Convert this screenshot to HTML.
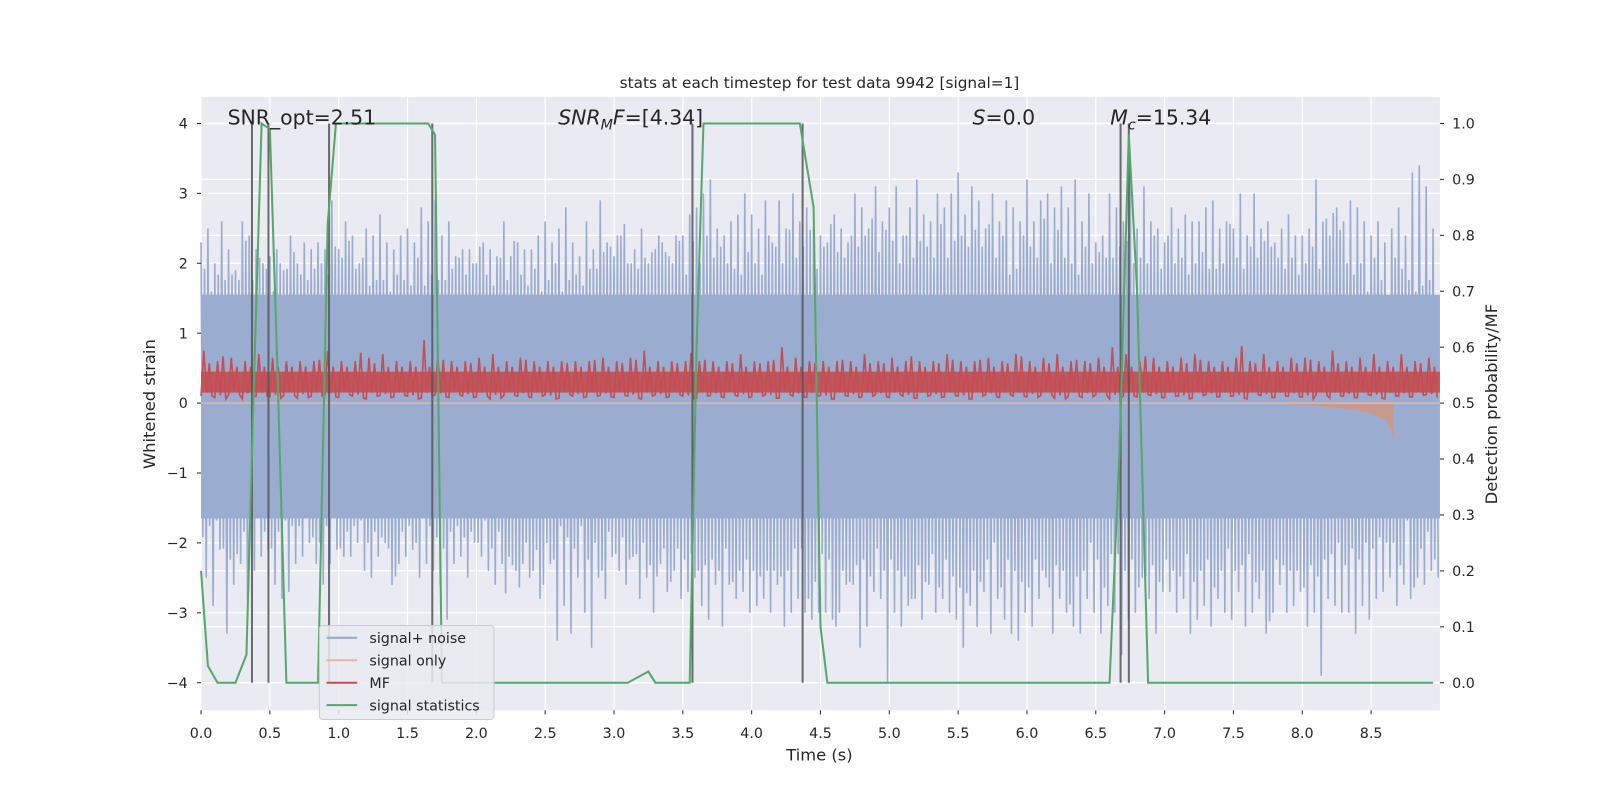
<!DOCTYPE html>
<html><head><meta charset="utf-8">
<style>
html,body{margin:0;padding:0;background:#fff;width:1600px;height:800px;overflow:hidden;}
svg{display:block;font-family:"DejaVu Sans","Liberation Sans",sans-serif;}
</style></head>
<body>
<svg id="chart" width="1600" height="800" viewBox="0 0 1600 800" xmlns="http://www.w3.org/2000/svg">
<g transform="scale(1.0205)">
<rect x="197" y="95" width="1214" height="601" fill="#eaeaf2"/>
<g id="grid"></g>
<g id="noise"></g>
<g id="sig"></g>
<g id="mf"></g>
<g id="vlines"></g>
<g id="stat"></g>
<g id="axes"></g>
<text x="803" y="86" font-size="15" text-anchor="middle" fill="#262626">stats at each timestep for test data 9942 [signal=1]</text>
<text x="223" y="122" font-size="20" fill="#262626">SNR_opt=2.51</text>
<text x="547" y="122" font-size="20" fill="#262626"><tspan font-style="italic">SNR</tspan><tspan font-style="italic" font-size="14" dy="5">M</tspan><tspan font-style="italic" dy="-5">F</tspan>=[4.34]</text>
<text x="953" y="122" font-size="20" fill="#262626"><tspan font-style="italic">S</tspan>=0.0</text>
<text x="1088" y="122" font-size="20" fill="#262626"><tspan font-style="italic">M</tspan><tspan font-style="italic" font-size="14" dy="5">c</tspan><tspan dy="-5">=15.34</tspan></text>
<text transform="translate(152,396) rotate(-90)" font-size="16" text-anchor="middle" fill="#262626">Whitened strain</text>
<text transform="translate(1467,396) rotate(-90)" font-size="16" text-anchor="middle" fill="#262626">Detection probability/MF</text>
<text x="803" y="745" font-size="16" text-anchor="middle" fill="#262626">Time (s)</text>
<g>
<rect x="313" y="613" width="171" height="92" rx="3" fill="#eaeaf2" fill-opacity="0.85" stroke="#cccccc"/>
<line x1="320" y1="625" x2="350" y2="625" stroke="#9aadd0" stroke-width="2"/>
<text x="362" y="630" font-size="14" fill="#262626">signal+ noise</text>
<line x1="320" y1="647" x2="350" y2="647" stroke="#e9b49c" stroke-width="2"/>
<text x="362" y="652" font-size="14" fill="#262626">signal only</text>
<line x1="320" y1="669" x2="350" y2="669" stroke="#c44e52" stroke-width="2"/>
<text x="362" y="674" font-size="14" fill="#262626">MF</text>
<line x1="320" y1="691" x2="350" y2="691" stroke="#55a868" stroke-width="2"/>
<text x="362" y="696" font-size="14" fill="#262626">signal statistics</text>
</g>
</g>
</svg>
<script>
const xTicks=[0,0.5,1,1.5,2,2.5,3,3.5,4,4.5,5,5.5,6,6.5,7,7.5,8,8.5];
const xTickLabels=["0.0","0.5","1.0","1.5","2.0","2.5","3.0","3.5","4.0","4.5","5.0","5.5","6.0","6.5","7.0","7.5","8.0","8.5"];
const yTicks=[-4,-3,-2,-1,0,1,2,3,4];
const yTickLabels=["\u22124","\u22123","\u22122","\u22121","0","1","2","3","4"];
const y2Ticks=[0,0.1,0.2,0.3,0.4,0.5,0.6,0.7,0.8,0.9,1.0];
const y2TickLabels=["0.0","0.1","0.2","0.3","0.4","0.5","0.6","0.7","0.8","0.9","1.0"];
const noiseStep=0.05;
const noiseUpper=[2.3,2.5,2.0,2.6,2.2,1.9,2.6,2.4,2.2,2.0,2.1,2.2,1.9,2.4,2.0,2.3,2.2,2.3,2.2,2.9,2.2,2.6,2.4,2.0,2.5,2.4,2.7,2.3,2.2,2.4,2.5,2.3,2.8,2.6,2.9,2.4,2.6,2.1,2.2,2.2,2.0,2.3,2.2,2.1,2.6,2.1,2.3,2.2,2.2,2.4,2.6,2.3,2.5,2.8,2.3,2.1,2.6,2.2,2.9,2.3,2.1,2.4,2.0,2.2,2.5,2.0,2.2,2.3,2.1,2.4,2.4,2.7,2.8,3.0,3.2,2.5,2.4,2.6,2.7,3.0,2.7,2.5,2.9,2.3,2.9,2.5,3.0,2.6,2.8,2.5,2.4,2.3,2.7,2.5,2.3,3.0,2.8,2.5,3.1,2.6,2.8,3.1,2.4,2.8,3.2,2.7,2.6,3.0,2.8,3.0,3.3,2.7,3.1,2.9,2.5,3.0,2.6,2.9,2.8,2.6,3.2,2.6,2.9,3.0,2.8,3.1,2.8,3.2,2.6,3.0,2.3,2.4,3.0,2.8,2.6,3.3,2.5,3.1,2.6,2.5,2.3,2.8,2.5,2.7,2.6,2.6,2.8,2.9,2.5,2.6,2.5,3.0,2.4,3.0,2.5,2.6,2.3,2.5,2.7,2.4,2.4,2.5,3.2,2.6,2.4,2.8,2.6,2.9,2.8,2.6,2.4,2.6,2.3,2.5,2.8,2.4,3.3,3.4,3.1,2.5];
const noiseLower=[-2.5,-2.9,-2.1,-3.3,-2.6,-2.3,-2.8,-2.4,-2.2,-2.1,-2.6,-2.8,-2.7,-2.3,-2.2,-2.0,-2.3,-2.6,-2.3,-2.1,-2.2,-2.2,-2.0,-2.4,-2.5,-2.2,-2.0,-2.6,-2.3,-2.2,-2.1,-2.5,-2.3,-2.4,-2.6,-3.1,-2.3,-2.2,-2.5,-2.0,-2.2,-2.4,-2.6,-2.3,-2.2,-2.4,-2.3,-2.5,-2.1,-2.6,-2.3,-3.4,-2.9,-3.3,-2.5,-3.0,-3.5,-2.5,-2.8,-2.2,-2.4,-2.6,-2.2,-2.8,-2.5,-3.0,-2.3,-2.7,-2.4,-2.8,-2.7,-2.5,-2.9,-3.1,-2.6,-3.2,-2.6,-2.8,-2.7,-3.0,-2.9,-2.8,-3.0,-2.6,-3.2,-3.0,-2.8,-3.0,-3.1,-3.0,-3.0,-3.1,-3.0,-2.6,-2.6,-3.5,-3.2,-2.7,-2.8,-4.0,-3.0,-3.2,-2.9,-2.8,-3.1,-2.6,-3.0,-2.8,-3.0,-3.1,-3.5,-2.9,-3.2,-2.7,-3.3,-2.8,-3.1,-3.3,-3.4,-3.0,-3.2,-2.8,-2.5,-3.3,-2.8,-3.0,-3.2,-3.3,-2.8,-3.0,-3.3,-2.9,-3.0,-3.6,-3.1,-3.0,-2.5,-2.8,-3.3,-2.7,-2.7,-3.0,-2.8,-3.3,-3.1,-2.9,-3.2,-2.8,-3.0,-3.1,-2.7,-3.2,-3.0,-2.8,-3.3,-3.0,-2.6,-3.0,-2.9,-2.7,-3.2,-3.0,-3.9,-2.8,-2.9,-3.0,-3.0,-3.3,-2.9,-3.1,-2.8,-2.7,-2.5,-2.9,-2.6,-2.8,-2.5,-2.6,-2.4,-2.5];
const noiseBand=[-1.65,1.55];
const mfStep=0.1;
const mfHigh=[0.75,0.6,0.65,0.6,0.7,0.65,0.6,0.6,0.6,0.75,0.6,0.6,0.65,0.7,0.6,0.6,0.9,0.65,0.6,0.6,0.65,0.7,0.6,0.65,0.6,0.6,0.6,0.6,0.6,0.65,0.6,0.65,0.75,0.6,0.6,0.6,0.6,0.6,0.6,0.7,0.6,0.6,0.8,0.65,0.6,0.6,0.6,0.6,0.7,0.6,0.65,0.6,0.6,0.6,0.7,0.6,0.6,0.65,0.6,0.7,0.6,0.65,0.7,0.6,0.6,0.65,0.8,0.7,0.6,0.65,0.6,0.65,0.7,0.6,0.6,0.65,0.6,0.7,0.6,0.65,0.65,0.6,0.75,0.6,0.65,0.7,0.6,0.7,0.6,0.65];
const mfLow=[0.1,0.08,0.12,0.06,0.1,0.09,0.11,0.07,0.1,0.12,0.08,0.1,0.06,0.11,0.09,0.1,0.07,0.12,0.08,0.1,0.09,0.06,0.11,0.1,0.08,0.12,0.07,0.1,0.09,0.11,0.08,0.1,0.06,0.12,0.09,0.1,0.07,0.11,0.08,0.1,0.09,0.12,0.07,0.1,0.08,0.11,0.06,0.1,0.09,0.12,0.08,0.1,0.07,0.11,0.09,0.1,0.06,0.12,0.08,0.1,0.09,0.11,0.07,0.1,0.08,0.12,0.06,0.1,0.09,0.11,0.08,0.1,0.07,0.12,0.09,0.1,0.06,0.11,0.08,0.1,0.09,0.12,0.07,0.1,0.08,0.11,0.06,0.1,0.09,0.12];
const mfBand=[0.15,0.45];
const sigT=[7.9,8.0,8.1,8.2,8.3,8.4,8.5,8.6,8.63,8.66];
const sigAmp=[-0.01,-0.02,-0.03,-0.05,-0.07,-0.1,-0.14,-0.22,-0.3,-0.5];
const statT=[0,0.05,0.12,0.25,0.33,0.38,0.44,0.5,0.55,0.62,0.75,0.85,0.92,0.98,1.65,1.7,1.75,3.1,3.25,3.3,3.55,3.6,3.65,4.35,4.45,4.5,4.55,6.6,6.67,6.74,6.8,6.88,8.95];
const statP=[0.2,0.03,0.0,0.0,0.05,0.5,1.0,0.99,0.6,0.0,0.0,0.0,0.82,1.0,1.0,0.98,0.0,0.0,0.02,0.0,0.0,0.6,1.0,1.0,0.85,0.1,0.0,0.0,0.4,0.98,0.7,0.0,0.0];
const eventTimes=[0.37,0.49,0.93,1.68,3.57,4.37,6.68,6.74];

const NS="http://www.w3.org/2000/svg";
const X0=197,X1=1411,T0=0,T1=9.0;
const xs=t=>X0+(t-T0)/(T1-T0)*(X1-X0);
const ys=v=>395-v*68.5;
const y2s=p=>669-p*548;
function mk(tag,attrs,parent){const e=document.createElementNS(NS,tag);for(const k in attrs)e.setAttribute(k,attrs[k]);parent.appendChild(e);return e;}
const G=id=>document.getElementById(id);

yTicks.forEach(v=>{const l=mk('line',{x1:X0,x2:X1,y1:ys(v),y2:ys(v),stroke:'#fff','stroke-width':1.2},G('grid'));

});
y2Ticks.forEach(v=>{const l=mk('line',{x1:X0,x2:X1,y1:y2s(v),y2:y2s(v),stroke:'#fff','stroke-width':1.2},G('grid'));

});
xTicks.forEach(v=>{const l=mk('line',{x1:xs(v),x2:xs(v),y1:95,y2:696,stroke:'#fff','stroke-width':1.2},G('grid'));

});

const band=mk('rect',{x:X0,width:X1-X0,y:ys(noiseBand[1]),height:ys(noiseBand[0])-ys(noiseBand[1]),fill:'#9aadd0'},G('noise'));


let pts=[];
const n=noiseUpper.length;
noiseUpper.forEach((u,i)=>{const t=i*noiseStep;const j=(i+7)%n,k=(i+13)%n;
pts.push(xs(t)+','+ys(u));
pts.push(xs(t+noiseStep*0.25)+','+ys(noiseLower[j]*0.8));
pts.push(xs(t+noiseStep*0.5)+','+ys(noiseUpper[k]*0.8));
pts.push(xs(t+noiseStep*0.75)+','+ys(noiseLower[i]));});
const np=mk('polyline',{points:pts.join(' '),fill:'none',stroke:'#9aadd0','stroke-width':1.6},G('noise'));



let sp=[xs(sigT[0])+','+ys(0)];
sigT.forEach((t,i)=>sp.push(xs(t)+','+ys(sigAmp[i])));
sp.push(xs(sigT[sigT.length-1])+','+ys(0));
const sg=mk('polygon',{points:sp.join(' '),fill:'#c89a8e',stroke:'#c89a8e','stroke-width':1},G('sig'));


const sz=mk('line',{x1:X0,x2:X1,y1:ys(0),y2:ys(0),stroke:'#e9b49c','stroke-width':1.5},G('sig'));



const mfy=v=>ys(v);
const mfr=mk('rect',{x:X0,width:X1-X0,y:mfy(mfBand[1]),height:mfy(mfBand[0])-mfy(mfBand[1]),fill:'#c44e52','fill-opacity':0.9},G('mf'));


let mp=[];
mfHigh.forEach((h,i)=>{const t=i*mfStep;const j=(i+31)%mfHigh.length;
mp.push(xs(t)+','+mfy(mfLow[i]));mp.push(xs(t+mfStep*0.2)+','+mfy(h));
mp.push(xs(t+mfStep*0.4)+','+mfy(mfLow[j]+0.05));mp.push(xs(t+mfStep*0.6)+','+mfy(mfHigh[j]-0.08));
mp.push(xs(t+mfStep*0.8)+','+mfy(mfLow[j]));});
const ml=mk('polyline',{points:mp.join(' '),fill:'none',stroke:'#c44e52','stroke-width':1.6},G('mf'));



eventTimes.forEach(t=>{const l=mk('line',{x1:xs(t),x2:xs(t),y1:ys(4),y2:ys(-4),stroke:'#555','stroke-opacity':0.85,'stroke-width':2},G('vlines'));

});

const st=mk('polyline',{points:statT.map((t,i)=>xs(t)+','+y2s(statP[i])).join(' '),fill:'none',stroke:'#55a868','stroke-width':2},G('stat'));



xTicks.forEach((v,i)=>{mk('line',{x1:xs(v),x2:xs(v),y1:696,y2:700,stroke:'#262626'},G('axes'));
const t=mk('text',{x:xs(v),y:723,'font-size':14,'text-anchor':'middle',fill:'#262626'},G('axes'));t.textContent=xTickLabels[i];

});
yTicks.forEach((v,i)=>{mk('line',{x1:193,x2:197,y1:ys(v),y2:ys(v),stroke:'#262626'},G('axes'));
const t=mk('text',{x:184,y:ys(v)+5,'font-size':14,'text-anchor':'end',fill:'#262626'},G('axes'));t.textContent=yTickLabels[i];

});
y2Ticks.forEach((v,i)=>{mk('line',{x1:1411,x2:1415,y1:y2s(v),y2:y2s(v),stroke:'#262626'},G('axes'));
const t=mk('text',{x:1423,y:y2s(v)+5,'font-size':14,fill:'#262626'},G('axes'));t.textContent=y2TickLabels[i];

});
</script>
</body></html>
